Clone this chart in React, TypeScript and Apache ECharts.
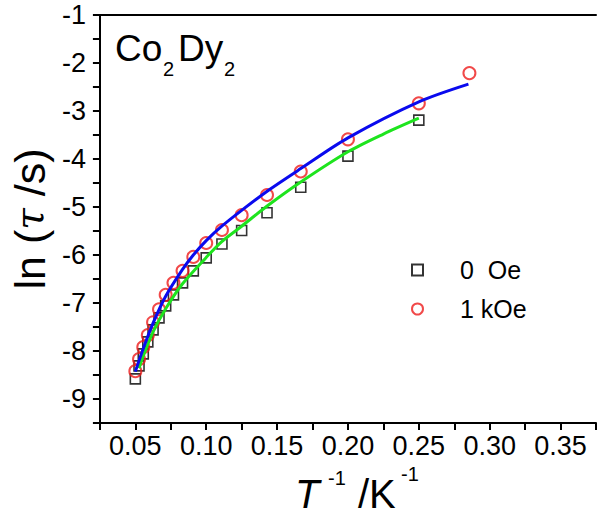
import React, { useEffect, useRef } from 'react';
import * as echarts from 'echarts';

// T^-1 (K^-1) and ln(tau/s)
const zeroFieldX = [0.05, 0.0526, 0.0556, 0.0588, 0.0625, 0.0667, 0.0714, 0.0769, 0.0833, 0.0909, 0.1, 0.1111, 0.125, 0.1429, 0.1667, 0.2, 0.25];
const zeroFieldY = [-8.58, -8.31, -8.06, -7.81, -7.56, -7.31, -7.06, -6.83, -6.58, -6.33, -6.06, -5.77, -5.49, -5.12, -4.59, -3.94, -3.19];

const oneKOeX = [0.05, 0.0526, 0.0556, 0.0588, 0.0625, 0.0667, 0.0714, 0.0769, 0.0833, 0.0909, 0.1, 0.1111, 0.125, 0.1429, 0.1667, 0.2, 0.25, 0.2857];
const oneKOeY = [-8.42, -8.17, -7.92, -7.67, -7.4, -7.13, -6.83, -6.58, -6.33, -6.04, -5.75, -5.48, -5.17, -4.75, -4.26, -3.59, -2.84, -2.21];

const blueFitX = [0.05, 0.0556, 0.0625, 0.0714, 0.0833, 0.0909, 0.1, 0.111, 0.125, 0.143, 0.1667, 0.2, 0.25, 0.285];
const blueFitY = [-8.43, -7.95, -7.42, -6.86, -6.3, -6.0, -5.7, -5.4, -5.07, -4.67, -4.2, -3.56, -2.81, -2.44];

const greenFitX = [0.0526, 0.0556, 0.0625, 0.0714, 0.0833, 0.1, 0.111, 0.125, 0.143, 0.1667, 0.2, 0.225, 0.25];
const greenFitY = [-8.36, -8.1, -7.6, -7.12, -6.6, -6.05, -5.72, -5.4, -4.98, -4.48, -3.85, -3.48, -3.15];

const seriesNames = ['0  Oe', '1 kOe'];

const FONT = 'Liberation Sans, Arial, sans-serif';

const zip = (xs: number[], ys: number[]) => xs.map((x, i) => [x, ys[i]]);

export default function App() {
  const ref = useRef<HTMLDivElement>(null);
  useEffect(() => {
    document.body.style.margin = '0';
    const chart = echarts.init(ref.current!, null, { renderer: 'svg' });
    const axisLine = { show: true, lineStyle: { color: '#000', width: 2 } };
    chart.setOption({
      animation: false,
      backgroundColor: '#fff',
      grid: { left: 97, right: 0, top: 15, bottom: 92 },
      legend: {
        data: seriesNames,
        orient: 'vertical',
        left: 406,
        top: 250,
        itemWidth: 11,
        itemHeight: 11,
        itemGap: 9,
        textStyle: { fontFamily: FONT, fontSize: 25, color: '#000', lineHeight: 30, padding: [0, 0, 0, 32] },
      },
      xAxis: [
        {
          type: 'value',
          min: 0.025,
          max: 0.375,
          interval: 0.025,
          position: 'bottom',
          axisLine,
          axisTick: { show: true, inside: false, length: 7, lineStyle: { color: '#000', width: 2 } },
          axisLabel: {
            fontFamily: FONT,
            fontSize: 27,
            color: '#000',
            margin: 9,
            formatter: (v: number) => (Math.round(v * 1000) % 50 === 0 ? v.toFixed(2) : ''),
          },
          splitLine: { show: false },
        },
        {
          type: 'value',
          min: 0.025,
          max: 0.375,
          position: 'top',
          axisLine,
          axisTick: { show: false },
          axisLabel: { show: false },
          splitLine: { show: false },
        },
      ],
      yAxis: {
        type: 'value',
        min: -9.5,
        max: -1,
        interval: 0.5,
        axisLine,
        axisTick: { show: true, inside: false, length: 7, lineStyle: { color: '#000', width: 2 } },
        axisLabel: {
          fontFamily: FONT,
          fontSize: 27,
          color: '#000',
          margin: 14,
          formatter: (v: number) => (Math.abs(v - Math.round(v)) < 1e-6 ? String(Math.round(v)) : ''),
        },
        splitLine: { show: false },
        name: '{a|ln (}{b|τ}{a| /s)}',
        nameLocation: 'middle',
        nameRotate: 90,
        nameGap: 44,
        nameTextStyle: {
          rich: {
            a: { fontFamily: FONT, fontSize: 43, color: '#000' },
            b: { fontFamily: 'DejaVu Serif, serif', fontStyle: 'italic', fontSize: 39, color: '#000' },
          },
        },
      },
      graphic: [
        { type: 'text', left: 115, top: 30, style: { text: 'Co', font: `37px ${FONT}`, fill: '#000' } },
        { type: 'text', left: 163, top: 59, style: { text: '2', font: `20px ${FONT}`, fill: '#000' } },
        { type: 'text', left: 178, top: 30, style: { text: 'Dy', font: `37px ${FONT}`, fill: '#000' } },
        { type: 'text', left: 224, top: 59, style: { text: '2', font: `20px ${FONT}`, fill: '#000' } },
        { type: 'text', left: 295, top: 474, style: { text: 'T', font: `italic 40px ${FONT}`, fill: '#000' } },
        { type: 'text', left: 328, top: 468, style: { text: '-1', font: `20px ${FONT}`, fill: '#000' } },
        { type: 'text', left: 358, top: 474, style: { text: '/K', font: `40px ${FONT}`, fill: '#000' } },
        { type: 'text', left: 401, top: 464, style: { text: '-1', font: `20px ${FONT}`, fill: '#000' } },
      ],
      series: [
        {
          name: seriesNames[0],
          type: 'scatter',
          data: zip(zeroFieldX, zeroFieldY),
          symbol: 'rect',
          symbolSize: 10,
          itemStyle: { color: 'rgba(0,0,0,0)', borderColor: '#000', borderWidth: 1.6 },
          z: 2,
        },
        {
          name: seriesNames[1],
          type: 'scatter',
          data: zip(oneKOeX, oneKOeY),
          symbol: 'circle',
          symbolSize: 12,
          itemStyle: { color: 'rgba(0,0,0,0)', borderColor: '#ee1c1c', borderWidth: 2 },
          z: 2,
        },
        {
          name: 'fit 0 Oe',
          type: 'line',
          data: zip(greenFitX, greenFitY),
          smooth: 0.3,
          showSymbol: false,
          lineStyle: { color: '#1ee41e', width: 3 },
          z: 3,
        },
        {
          name: 'fit 1 kOe',
          type: 'line',
          data: zip(blueFitX, blueFitY),
          smooth: 0.3,
          showSymbol: false,
          lineStyle: { color: '#0a0aee', width: 3 },
          z: 4,
        },
      ],
    });
    return () => chart.dispose();
  }, []);
  return <div ref={ref} style={{ width: 599, height: 515 }} />;
}
